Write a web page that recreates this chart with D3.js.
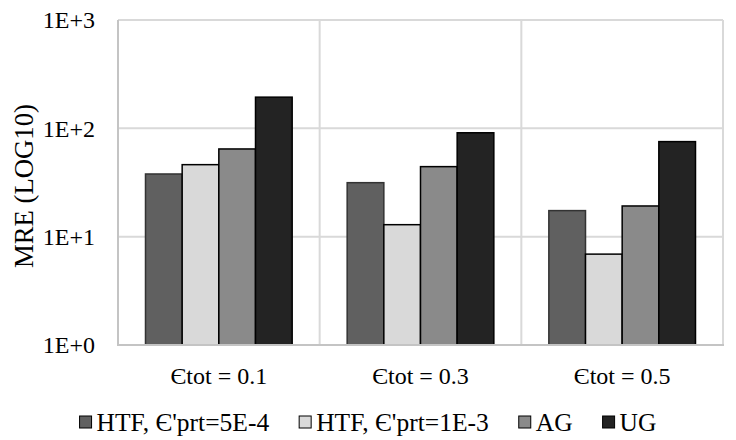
<html>
<head>
    <script src="https://d3js.org/d3.v7.min.js"></script>
    <style>
        body { margin: 0; background: #fff; }
        svg text { font-family: "Liberation Serif", "DejaVu Serif", serif !important; fill: #000; }
    </style>
</head>
<body>
<svg id="chart" width="736" height="440"></svg>
<script>
    // data
    let categories = ["\u0404tot = 0.1", "\u0404tot = 0.3", "\u0404tot = 0.5"];
    let seriesNames = ["HTF, \u0404'prt=5E-4", "HTF, \u0404'prt=1E-3", "AG", "UG"];
    let htf5 = [37.9, 31.5, 17.4];
    let htf1 = [46.2, 12.9, 6.9];
    let ag = [64.5, 44.3, 19.2];
    let ug = [194, 91, 75.4];
    let tickValues = [1, 10, 100, 1000];
    let tickLabels = ["1E+0", "1E+1", "1E+2", "1E+3"];
    let colors = ["#606060", "#d9d9d9", "#8a8a8a", "#232323"];

    let seriesValues = [htf5, htf1, ag, ug];

    let svg = d3.select("svg#chart");
    let margin = {"top": 20, "right": 13, "bottom": 95, "left": 118};
    let width = +svg.attr("width");
    let height = +svg.attr("height");

    let xScale = d3.scaleBand().domain(categories).range([margin.left, width - margin.right]).padding(0);
    let xInner = d3.scaleBand().domain(seriesNames).range([0, xScale.bandwidth()]).paddingInner(0).paddingOuter(0.75);
    let yScale = d3.scaleLog().domain([1, 1000]).range([height - margin.bottom, margin.top]);

    //horizontal gridlines
    svg.append("g").selectAll("line")
        .data(tickValues.slice(1))
        .join("line")
        .attr("x1", margin.left).attr("x2", width - margin.right)
        .attr("y1", d => yScale(d)).attr("y2", d => yScale(d))
        .style("stroke", "#d9d9d9").style("stroke-width", 2);

    //vertical gridlines at category borders
    let borders = categories.map(c => xScale(c)).concat([width - margin.right]);
    svg.append("g").selectAll("line")
        .data(borders.slice(1))
        .join("line")
        .attr("x1", d => d).attr("x2", d => d)
        .attr("y1", margin.top).attr("y2", height - margin.bottom)
        .style("stroke", "#d9d9d9").style("stroke-width", 2);

    //left edge
    svg.append("line")
        .attr("x1", margin.left).attr("x2", margin.left)
        .attr("y1", margin.top).attr("y2", height - margin.bottom)
        .style("stroke", "#c4c4c4").style("stroke-width", 2);

    //bars
    seriesValues.forEach(function(vals, s) {
        svg.append("g").selectAll("rect")
            .data(vals)
            .join("rect")
            .attr("x", (d, i) => xScale(categories[i]) + xInner(seriesNames[s]))
            .attr("y", d => yScale(d))
            .attr("width", xInner.bandwidth())
            .attr("height", d => yScale(1) - yScale(d))
            .style("fill", colors[s])
            .style("stroke", s == 0 ? "#333" : "#000")
            .style("stroke-width", 1.5);
    });

    //x axis line
    svg.append("line")
        .attr("x1", margin.left - 1).attr("x2", width - margin.right + 1)
        .attr("y1", height - margin.bottom).attr("y2", height - margin.bottom)
        .style("stroke", "#c4c4c4").style("stroke-width", 2);

    //y axis
    let yAxis = d3.axisLeft(yScale).tickValues(tickValues).tickSize(0).tickPadding(23)
        .tickFormat((d, i) => tickLabels[i]);
    let gy = svg.append("g")
        .attr("transform", "translate(" + margin.left + ",0)")
        .call(yAxis)
        .attr("font-family", null).attr("font-size", null);
    gy.select(".domain").remove();
    gy.selectAll("text").style("font-size", "24px");

    //x axis labels
    let xAxis = d3.axisBottom(xScale).tickSize(0).tickPadding(22);
    let gx = svg.append("g")
        .attr("transform", "translate(0," + (height - margin.bottom) + ")")
        .call(xAxis)
        .attr("font-family", null).attr("font-size", null);
    gx.select(".domain").remove();
    gx.selectAll("text").style("font-size", "24px");

    //y title
    svg.append("text")
        .attr("transform", "translate(33,186) rotate(-90)")
        .attr("text-anchor", "middle")
        .style("font-size", "26.7px")
        .text("MRE (LOG10)");

    //legend
    let legend = svg.append("g");
    let lx = 0;
    seriesNames.forEach(function(name, s) {
        let item = legend.append("g").attr("transform", "translate(" + lx + ",0)");
        item.append("rect")
            .attr("x", 0).attr("y", 416)
            .attr("width", 12).attr("height", 12)
            .style("fill", colors[s])
            .style("stroke", "#000").style("stroke-width", 1);
        let t = item.append("text")
            .attr("x", 17).attr("y", 431)
            .style("font-size", "25.5px")
            .text(name);
        lx += 17 + t.node().getComputedTextLength() + 30;
    });
    let legendWidth = lx - 30;
    legend.attr("transform", "translate(" + (width / 2 - legendWidth / 2) + ",0)");
</script>
</body>
</html>
